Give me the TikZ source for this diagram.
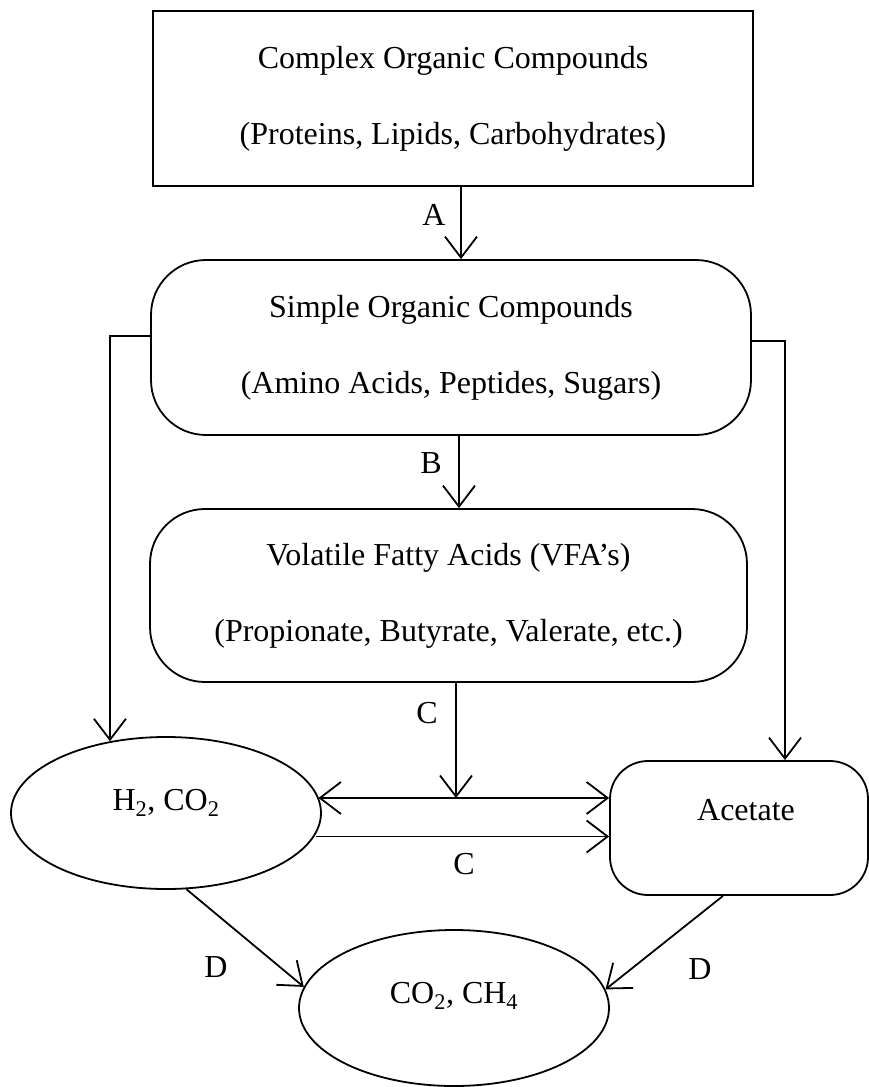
\documentclass[tikz,border=0pt]{standalone}
\usepackage{fontspec}
\setmainfont{Liberation Serif}
\usetikzlibrary{arrows.meta,shapes.geometric}

\tikzset{
  stage/.style={draw, line width=1.8pt, inner sep=0pt, align=center,
    font=\fontsize{32}{76}\selectfont},
  squarebox/.style={stage, rectangle},
  roundbox/.style={stage, rectangle, rounded corners=55pt},
  oval/.style={stage, ellipse, text height=22pt},
  tag/.style={font=\fontsize{32}{38}\selectfont, inner sep=0pt},
  barb/.tip={Straight Barb[length=21pt,width=32pt,line width=1.8pt]},
  flow/.style={line width=1.8pt, -barb},
  twoway/.style={line width=1.8pt, barb-barb}
}

\begin{document}
\begin{tikzpicture}[x=1pt, y=-1pt]
  \useasboundingbox (0,0) rectangle (869,1087);

  % process stages
  \node[squarebox, minimum width=600pt, minimum height=175pt] (complex) at (453,98.5)
    {Complex Organic Compounds\\(Proteins, Lipids, Carbohydrates)};
  \node[roundbox, minimum width=600pt, minimum height=175pt] (simple) at (451,347.5)
    {Simple Organic Compounds\\(Amino Acids, Peptides, Sugars)};
  \node[roundbox, minimum width=597pt, minimum height=173pt] (vfa) at (448.5,595.5)
    {Volatile Fatty Acids (VFA’s)\\(Propionate, Butyrate, Valerate, etc.)};
  \node[oval, text depth=27pt, minimum width=310pt, minimum height=152pt] (hco) at (166,813)
    {H\textsubscript{2}, CO\textsubscript{2}};
  \node[roundbox, rounded corners=38pt, minimum width=258pt, minimum height=134pt] (acetate) at (739,828) {};
  \node[tag] (acetatetext) at (746,810) {Acetate};
  \node[oval, text depth=32pt, minimum width=310pt, minimum height=156pt] (biogas) at (454,1008)
    {CO\textsubscript{2}, CH\textsubscript{4}};

  % helper points on the exchange lines
  \coordinate (upper) at ([yshift=30pt]acetate.west);
  \coordinate (lower) at ([yshift=-8.5pt]acetate.west);

  % connectors
  \draw[flow] ([xshift=8pt]complex.south) -- ([xshift=8pt]complex.south |- simple.north);
  \draw[flow] ([xshift=8pt]simple.south) -- ([xshift=8pt]simple.south |- vfa.north);
  \draw[flow] ([yshift=11.5pt]simple.west) -| (hco.128);
  \draw[flow] ([yshift=6.5pt]simple.east) -| ([xshift=46pt]acetate.north);
  \draw[twoway] (upper -| hco.6) -- (upper);
  \draw[flow] ([xshift=7.5pt]vfa.south) -- ([xshift=7.5pt]vfa.south |- upper);
  \draw[flow] (lower -| hco.-8) -- (lower);
  \draw[flow] (hco.-75) -- (biogas.172);
  \draw[flow] ([xshift=-16pt]acetate.south) -- (biogas.7);

  % step labels
  \node[tag] (la) at (434,215) {A};
  \node[tag] (lb) at (431,463) {B};
  \node[tag] (lc) at (427,713) {C};
  \node[tag] (lc2) at (464,864) {C};
  \node[tag] (ld) at (216,967) {D};
  \node[tag] (ld2) at (700,969) {D};
\end{tikzpicture}
\end{document}
